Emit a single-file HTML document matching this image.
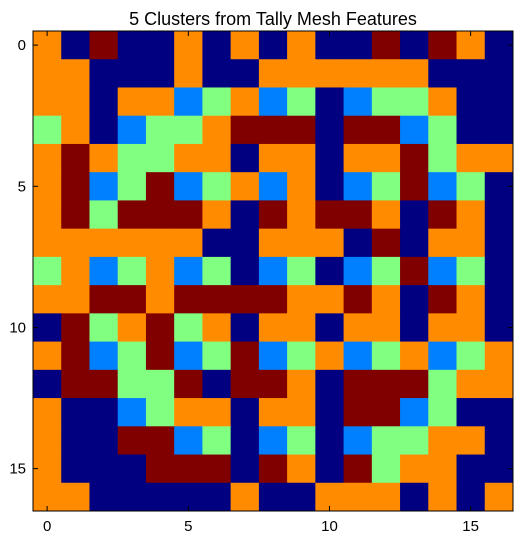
<!DOCTYPE html>
<html><head><meta charset="utf-8"><style>
body{margin:0;background:#fff;}
svg{display:block;font-family:"Liberation Sans","DejaVu Sans",sans-serif;}
</style></head><body>
<svg id="chart" width="523" height="539">
<rect width="523" height="539" fill="#fff"/>
<text x="273" y="25" text-anchor="middle" font-size="18">5 Clusters from Tally Mesh Features</text>
<g id="cells"></g>
<g id="axes"></g>
</svg>
<script>
const rowsData = [
"ONRNNONONONNRNRON",
"OONNNONNOOOOOONNN",
"OONOOBGOBGNBGGONN",
"GONBGGORRRNRRBGNN",
"OROGGOONOONOORGOO",
"ORBGRBGOBONBGRBGN",
"ORGRRRONRORRONRON",
"OOOOOONNOOONRNOON",
"GOBGOBGNBGNBGRBGN",
"OORRORRRROOROLRON".replace('L','N'),
"NRGORGONOONOONOON",
"ORBGRBGRBGOBGOBGO",
"NRRGGRNRRONRRRGOO",
"ONNBGOONOONRRBGNN",
"ONNRRBGNBGNBGGOON",
"ONNNRRRNRONRGOONN",
"OONNNNNONNOOONONO"
];
const clusterColors = {N:"#000080",B:"#0080ff",G:"#80ff80",O:"#ff8c00",R:"#800000"};
const tickValues = [0,5,10,15];
const nCells = 17;
const x0=33,y0=31,plotW=480,plotH=480;
const cw=plotW/nCells, ch=plotH/nCells;
function xScale(i){return x0+i*cw;}
function yScale(j){return y0+j*ch;}
const NS="http://www.w3.org/2000/svg";
const cells=document.getElementById('cells');
rowsData.forEach((row,r)=>{
  for(let c=0;c<row.length;c++){
    const el=document.createElementNS(NS,'rect');
    el.setAttribute('x',xScale(c));el.setAttribute('y',yScale(r));
    el.setAttribute('width',cw+0.5);el.setAttribute('height',ch+0.5);
    el.setAttribute('fill',clusterColors[row[c]]);
    
    
    cells.appendChild(el);
  }
});
const axes=document.getElementById('axes');
const frame=document.createElementNS(NS,'rect');
frame.setAttribute('x',x0);frame.setAttribute('y',y0);frame.setAttribute('width',plotW);frame.setAttribute('height',plotH);
frame.setAttribute('fill','none');frame.setAttribute('stroke','#000');frame.setAttribute('stroke-width','1');


axes.appendChild(frame);
function line(x1,y1,x2,y2){const l=document.createElementNS(NS,'line');l.setAttribute('x1',x1);l.setAttribute('y1',y1);l.setAttribute('x2',x2);l.setAttribute('y2',y2);l.setAttribute('stroke','#000');


axes.appendChild(l);}
tickValues.forEach(v=>{
  const x=xScale(v+0.5), y=yScale(v+0.5);
  line(x,y0,x,y0+5);line(x,y0+plotH,x,y0+plotH-5);
  line(x0,y,x0+5,y);line(x0+plotW,y,x0+plotW-5,y);
  const tx=document.createElementNS(NS,'text');
  tx.setAttribute('x',x);tx.setAttribute('y',y0+plotH+20);tx.setAttribute('text-anchor','middle');tx.setAttribute('font-size','15');
  tx.textContent=v;
  
  
  axes.appendChild(tx);
  const ty=document.createElementNS(NS,'text');
  ty.setAttribute('x',x0-7);ty.setAttribute('y',y+5);ty.setAttribute('text-anchor','end');ty.setAttribute('font-size','15');
  ty.textContent=v;
  
  
  axes.appendChild(ty);
});
</script>
</body></html>
